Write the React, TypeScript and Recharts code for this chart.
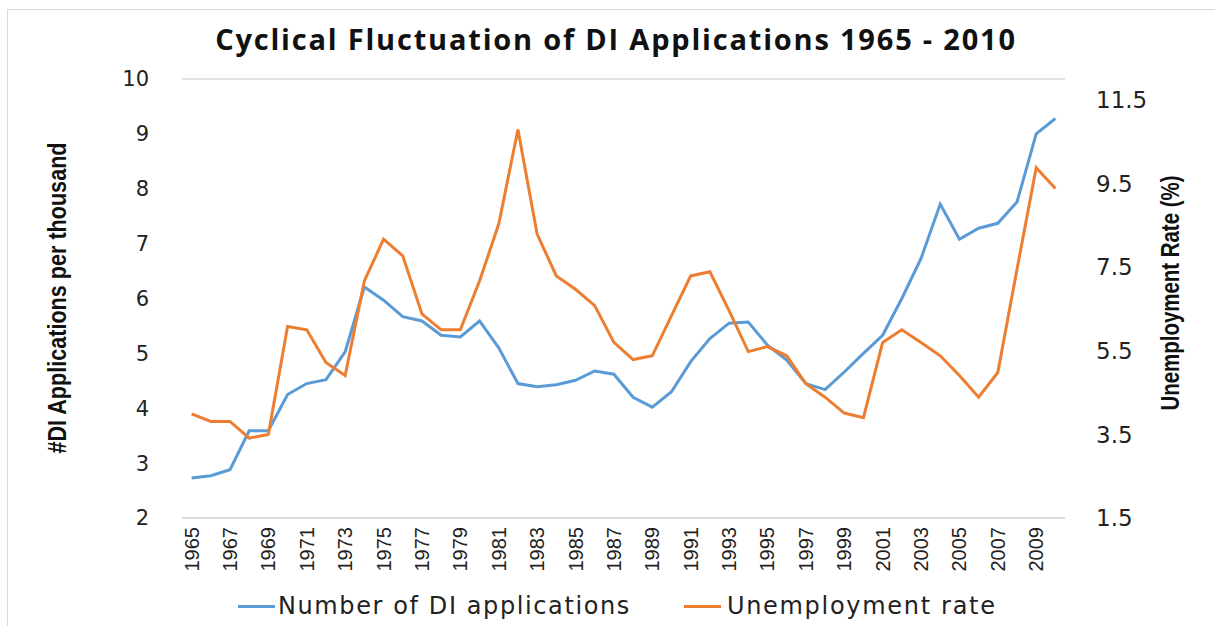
import React from 'react';
import { LineChart, Line, XAxis, YAxis, CartesianGrid, Legend } from 'recharts';

const years = [
  '1965', '1966', '1967', '1968', '1969', '1970', '1971', '1972', '1973', '1974',
  '1975', '1976', '1977', '1978', '1979', '1980', '1981', '1982', '1983', '1984',
  '1985', '1986', '1987', '1988', '1989', '1990', '1991', '1992', '1993', '1994',
  '1995', '1996', '1997', '1998', '1999', '2000', '2001', '2002', '2003', '2004',
  '2005', '2006', '2007', '2008', '2009', '2010',
];

const diApplications = [
  2.73, 2.77, 2.88, 3.59, 3.59, 4.25, 4.45, 4.52, 5.03, 6.21,
  5.97, 5.67, 5.59, 5.33, 5.30, 5.59, 5.10, 4.45, 4.39, 4.43,
  4.51, 4.68, 4.62, 4.20, 4.02, 4.30, 4.85, 5.27, 5.55, 5.57,
  5.15, 4.88, 4.45, 4.34, 4.66, 5.00, 5.33, 6.00, 6.73, 7.72,
  7.08, 7.28, 7.37, 7.76, 9.00, 9.28,
];

const unemploymentRate = [
  3.99, 3.81, 3.81, 3.41, 3.50, 6.08, 6.00, 5.22, 4.91, 7.17,
  8.17, 7.77, 6.38, 6.00, 6.00, 7.17, 8.53, 10.79, 8.29, 7.29,
  6.97, 6.58, 5.70, 5.29, 5.38, 6.34, 7.29, 7.39, 6.46, 5.48,
  5.60, 5.38, 4.71, 4.39, 4.01, 3.90, 5.70, 6.00, 5.70, 5.38,
  4.91, 4.39, 4.98, 7.45, 9.88, 9.38,
];

const leftTicks = [2, 3, 4, 5, 6, 7, 8, 9, 10];
const rightTicks = [1.5, 3.5, 5.5, 7.5, 9.5, 11.5];

const title = 'Cyclical Fluctuation of DI Applications 1965 - 2010';
const leftTitle = '#DI Applications  per thousand';
const rightTitle = 'Unemployment Rate (%)';
const seriesNames = ['Number of DI applications', 'Unemployment rate'];

const BLUE = '#5B9BD5';
const ORANGE = '#ED7D31';
const GRID = '#D9D9D9';

const data = years.map((y, i) => ({
  year: y,
  di: diApplications[i],
  ur: unemploymentRate[i],
}));

const XTick = (props: any) => {
  const { x, y, payload } = props;
  return (
    <text
      transform={`translate(${x},${y + 7}) rotate(-90)`}
      textAnchor="end"
      dominantBaseline="central"
      fontFamily="'Liberation Sans', Arial, sans-serif"
      fontSize={20}
      fill="#222"
    >
      {payload.value}
    </text>
  );
};

const renderLegend = () => (
  <div
    style={{
      height: 40,
      display: 'flex',
      alignItems: 'center',
      justifyContent: 'flex-start',
      paddingLeft: 238,
      fontFamily: "'DejaVu Sans', sans-serif",
      fontSize: 24,
      color: '#222',
      boxSizing: 'border-box',
    }}
  >
    <span style={{ display: 'inline-block', width: 37, height: 3, background: BLUE, marginRight: 3 }} />
    <span style={{ letterSpacing: 1.6 }}>{seriesNames[0]}</span>
    <span style={{ display: 'inline-block', width: 37, height: 3, background: ORANGE, marginLeft: 53, marginRight: 6 }} />
    <span style={{ letterSpacing: 1.7 }}>{seriesNames[1]}</span>
  </div>
);

export default function App() {
  return (
    <div style={{ position: 'absolute', left: 0, top: 0, width: 1215, height: 626, overflow: 'hidden', background: '#fff' }}>
      <div style={{ position: 'absolute', left: 7, top: 9, width: 1300, height: 700, border: `1px solid ${GRID}` }} />
      <div
        style={{
          position: 'absolute',
          left: 0,
          width: 1232,
          top: 20,
          textAlign: 'center',
          fontFamily: "'Open Sans', sans-serif",
          fontWeight: 700,
          fontSize: 29,
          letterSpacing: 1.8,
          color: '#111',
          lineHeight: '38px',
        }}
      >
        {title}
      </div>
      <div style={{ position: 'absolute', left: 0, top: 0 }}>
        <LineChart width={1215} height={626} data={data} margin={{ top: 79, right: 0, bottom: 0, left: 0 }}>
          <CartesianGrid vertical={false} stroke={GRID} strokeWidth={1.5} />
          <XAxis
            dataKey="year"
            interval={1}
            height={68}
            padding={{ left: 9.6, right: 9.6 }}
            tickLine={false}
            tickSize={0}
            axisLine={{ stroke: GRID, strokeWidth: 1.5 }}
            tick={<XTick />}
          />
          <YAxis
            yAxisId="left"
            width={182}
            domain={[2, 10]}
            ticks={leftTicks}
            interval={0}
            axisLine={false}
            tickLine={false}
            tickSize={0}
            tickMargin={33}
            tick={{ fontFamily: "'DejaVu Sans', sans-serif", fontSize: 21, fill: '#222' }}
            label={{
              content: (p: any) => {
                const vb = p.viewBox;
                const cx = vb.x + 57;
                const cy = vb.y + 219;
                return (
                  <text
                    transform={`translate(${cx},${cy}) rotate(-90)`}
                    textAnchor="middle"
                    dominantBaseline="central"
                    fontFamily="'Liberation Sans Narrow', 'Liberation Sans', sans-serif"
                    fontWeight={700}
                    fontSize={25}
                    textLength={311}
                    lengthAdjust="spacingAndGlyphs"
                    fill="#111"
                  >
                    {leftTitle}
                  </text>
                );
              },
            }}
          />
          <YAxis
            yAxisId="right"
            orientation="right"
            width={150}
            domain={[1.5, 12]}
            ticks={rightTicks}
            interval={0}
            axisLine={false}
            tickLine={false}
            tickSize={0}
            tickMargin={31}
            tick={{ fontFamily: "'DejaVu Sans', sans-serif", fontSize: 23, fill: '#222' }}
            label={{
              content: (p: any) => {
                const vb = p.viewBox;
                const cx = vb.x + 105;
                const cy = vb.y + 214;
                return (
                  <text
                    transform={`translate(${cx},${cy}) rotate(-90)`}
                    textAnchor="middle"
                    dominantBaseline="central"
                    fontFamily="'Liberation Sans Narrow', 'Liberation Sans', sans-serif"
                    fontWeight={700}
                    fontSize={25}
                    textLength={235}
                    lengthAdjust="spacingAndGlyphs"
                    fill="#111"
                  >
                    {rightTitle}
                  </text>
                );
              },
            }}
          />
          <Legend verticalAlign="bottom" height={40} content={renderLegend} />
          <Line
            yAxisId="left"
            type="linear"
            dataKey="di"
            name={seriesNames[0]}
            stroke={BLUE}
            strokeWidth={3}
            dot={false}
            isAnimationActive={false}
          />
          <Line
            yAxisId="right"
            type="linear"
            dataKey="ur"
            name={seriesNames[1]}
            stroke={ORANGE}
            strokeWidth={3}
            dot={false}
            isAnimationActive={false}
          />
        </LineChart>
      </div>
    </div>
  );
}
